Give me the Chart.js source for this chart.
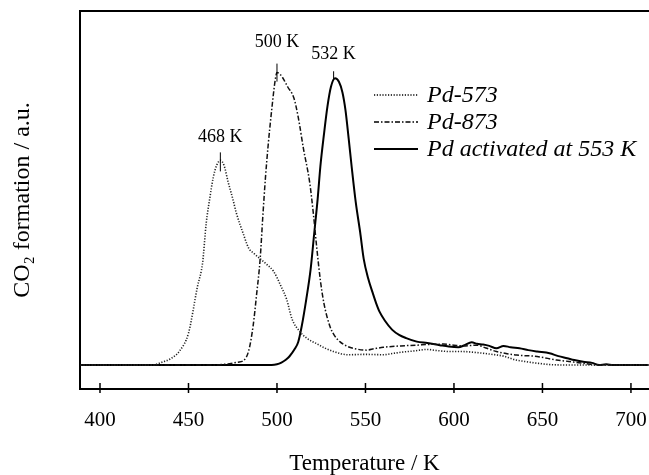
<!DOCTYPE html>
<html>
<head>
<meta charset="utf-8">
<script src="https://cdn.jsdelivr.net/npm/chart.js@4.4.1/dist/chart.umd.min.js"></script>
<style>
  html, body { margin: 0; padding: 0; background: #fff; }
  #wrap { width: 649px; height: 475px; }
</style>
</head>
<body>
<div id="wrap"><canvas id="tpdChart"></canvas></div>
<script>
// values: temperature (K) and CO2 signal (a.u., baseline = 0)
const pd573Temp = [389, 430, 435, 440, 445, 450, 455, 458, 460, 462, 464, 466, 468, 470, 472.5, 475, 477, 481, 484, 487,
    490.5, 494, 498, 502.5, 505.5, 508.5, 513, 517, 522.5, 527, 532, 540, 550, 560, 566, 570, 578, 584.5, 590, 598,
    605, 613, 620, 628, 635, 640, 647, 655, 665, 710];
const pd573Signal = [0, 0, 0.8, 1.8, 4, 9, 22, 29, 40, 47, 53, 56.5, 57.8, 56.5, 51.5, 47, 43, 37, 33, 31.5,
    30, 28.5, 26.5, 22, 18.5, 13, 9.4, 7.5, 6, 4.8, 3.8, 2.9, 3.0, 2.9, 3.3, 3.6, 4.0, 4.4, 4.1, 3.8,
    3.8, 3.5, 3.1, 2.5, 1.4, 1.0, 0.5, 0.1, 0, 0];

const pd873Temp = [389, 465, 472, 478, 481, 484, 486.5, 488.5, 490.5, 492, 493.5, 495, 497, 499, 500, 502, 504, 506, 509.5, 512,
    515, 518.5, 520.5, 522.5, 524.5, 526.5, 530, 532.5, 535.5, 540, 545, 550.5, 555, 560, 570, 579, 585, 594, 600, 605,
    613, 618, 624, 630, 635.5, 647, 658, 665, 673, 681.5, 710];
const pd873Signal = [0, 0, 0.3, 0.8, 1.2, 4, 11, 20, 30, 42, 53, 62, 72, 80.5, 82.6, 82, 80.5, 78.6, 75.5, 70,
    61, 51.5, 43, 33, 24, 17.5, 10.8, 8.3, 6.6, 5.2, 4.5, 4.2, 4.6, 5.0, 5.4, 5.6, 5.8, 5.9, 5.6, 5.4,
    5.6, 4.8, 3.8, 3.2, 2.8, 2.4, 1.4, 1.0, 0.5, 0, 0];

const pd553Temp = [389, 497, 500, 502.5, 505, 507, 510, 512, 514, 516.5, 519, 521, 523, 524.5, 526.5, 528.5, 530.5, 532.8, 535, 537,
    538.7, 540.5, 542.2, 544.5, 547, 549, 551.5, 554, 556, 558, 561, 565, 569, 573, 579, 585, 592, 597, 602.5, 606,
    610, 613, 616.5, 620, 624, 628, 632, 637, 642, 647, 654, 659, 664, 668, 673, 678, 682, 686, 690, 710];
const pd553Signal = [0, 0, 0.2, 0.7, 1.5, 2.4, 4.5, 6.5, 11, 18.4, 27, 37, 47, 56, 65, 73, 78.6, 81, 80, 77,
    72, 64, 56, 46, 37.5, 30, 24.5, 20.5, 17.5, 15, 12.5, 10, 8.5, 7.6, 6.6, 6.2, 5.6, 5.2, 5.0, 5.6,
    6.4, 6.0, 5.8, 5.4, 4.7, 5.4, 5.0, 4.7, 4.2, 3.8, 3.3, 2.5, 1.9, 1.4, 0.9, 0.6, 0, 0.2, 0, 0];

const seriesLabels = ['Pd-573', 'Pd-873', 'Pd activated at 553 K'];
const xTicks = [400, 450, 500, 550, 600, 650, 700];

// peak markers
const peakTemps = [468, 500, 532];
const peakSignals = [57.8, 82.6, 81];
const peakLabels = ['468 K', '500 K', '532 K'];

const serif = "'Liberation Serif', 'Times New Roman', serif";

function toPoints(xs, ys) {
    return xs.map((x, i) => ({ x: x, y: ys[i] }));
}

// frame, crossing ticks, peak markers and legend
const extrasPlugin = {
    id: 'extras',
    afterDraw(chart) {
        const ctx = chart.ctx;
        const area = chart.chartArea;
        const xs = chart.scales.x;
        const ys = chart.scales.y;
        ctx.save();
        ctx.strokeStyle = '#000';
        ctx.fillStyle = '#000';

        // top border of the frame
        ctx.lineWidth = 2;
        ctx.beginPath();
        ctx.moveTo(area.left - 1, area.top);
        ctx.lineTo(area.right, area.top);
        ctx.stroke();

        // ticks crossing the x axis
        ctx.lineWidth = 1.5;
        xs.ticks.forEach(t => {
            const px = xs.getPixelForValue(t.value);
            ctx.beginPath();
            ctx.moveTo(px, area.bottom - 6);
            ctx.lineTo(px, area.bottom + 4);
            ctx.stroke();
        });

        // peak markers
        const tickSpan = [[-8, 11], [-9, 9], [-7, 2]];
        const labelGap = [23, 30, 24];
        ctx.font = '18px ' + serif;
        ctx.textAlign = 'center';
        ctx.textBaseline = 'middle';
        ctx.lineWidth = 1;
        peakTemps.forEach((t, i) => {
            const px = xs.getPixelForValue(t);
            const py = ys.getPixelForValue(peakSignals[i]);
            ctx.beginPath();
            ctx.moveTo(px, py + tickSpan[i][0]);
            ctx.lineTo(px, py + tickSpan[i][1]);
            ctx.stroke();
            ctx.fillText(peakLabels[i], px, py - labelGap[i]);
        });

        // legend
        ctx.font = 'italic 24px ' + serif;
        ctx.textAlign = 'left';
        chart.data.datasets.forEach((ds, i) => {
            const y = 95 + i * 27;
            ctx.lineWidth = ds.borderWidth;
            ctx.setLineDash(ds.borderDash || []);
            ctx.beginPath();
            ctx.moveTo(374, y);
            ctx.lineTo(418, y);
            ctx.stroke();
            ctx.setLineDash([]);
            ctx.fillText(ds.label, 427, y + 1);
        });
        ctx.restore();
    }
};

const ctx = document.getElementById('tpdChart').getContext('2d');
new Chart(ctx, {
    type: 'line',
    data: {
        datasets: [
            {
                label: seriesLabels[0],
                data: toPoints(pd573Temp, pd573Signal),
                borderColor: '#222',
                borderWidth: 1.6,
                borderDash: [1.2, 1.6],
                cubicInterpolationMode: 'monotone',
                pointRadius: 0,
                fill: false
            },
            {
                label: seriesLabels[1],
                data: toPoints(pd873Temp, pd873Signal),
                borderColor: '#111',
                borderWidth: 1.5,
                borderDash: [5, 2, 1.5, 2],
                cubicInterpolationMode: 'monotone',
                pointRadius: 0,
                fill: false
            },
            {
                label: seriesLabels[2],
                data: toPoints(pd553Temp, pd553Signal),
                borderColor: '#000',
                borderWidth: 2,
                cubicInterpolationMode: 'monotone',
                pointRadius: 0,
                fill: false
            }
        ]
    },
    options: {
        responsive: true,
        maintainAspectRatio: false,
        animation: false,
        layout: { padding: { top: 11, left: 0, right: 0, bottom: 0 } },
        plugins: {
            legend: { display: false },
            tooltip: { enabled: false }
        },
        scales: {
            x: {
                type: 'linear',
                min: 388.7,
                max: 710.2,
                afterBuildTicks: scale => {
                    scale.ticks = xTicks.map(v => ({ value: v }));
                },
                afterFit: scale => {
                    scale.height = 86;
                    scale.paddingLeft = 0;   // let the plot run to the right edge
                    scale.paddingRight = 0;
                },
                grid: { display: false },
                border: { display: true, color: '#000', width: 2 },
                ticks: {
                    color: '#000',
                    padding: 11,
                    maxRotation: 0,
                    font: { family: serif, size: 21 }
                },
                title: {
                    display: true,
                    text: 'Temperature / K',
                    color: '#000',
                    font: { family: serif, size: 23, lineHeight: 1.0 },
                    padding: { top: 0, bottom: 0 }
                }
            },
            y: {
                min: -6.78,
                max: 100,
                afterFit: scale => { scale.width = 80; },
                grid: { display: false },
                border: { display: true, color: '#000', width: 2 },
                ticks: { display: false },
                title: {
                    display: true,
                    text: 'CO₂ formation / a.u.',
                    color: '#000',
                    font: { family: serif, size: 24, lineHeight: 1.2 },
                    padding: { top: 8, bottom: 0 }
                }
            }
        }
    },
    plugins: [extrasPlugin]
});
</script>
</body>
</html>
